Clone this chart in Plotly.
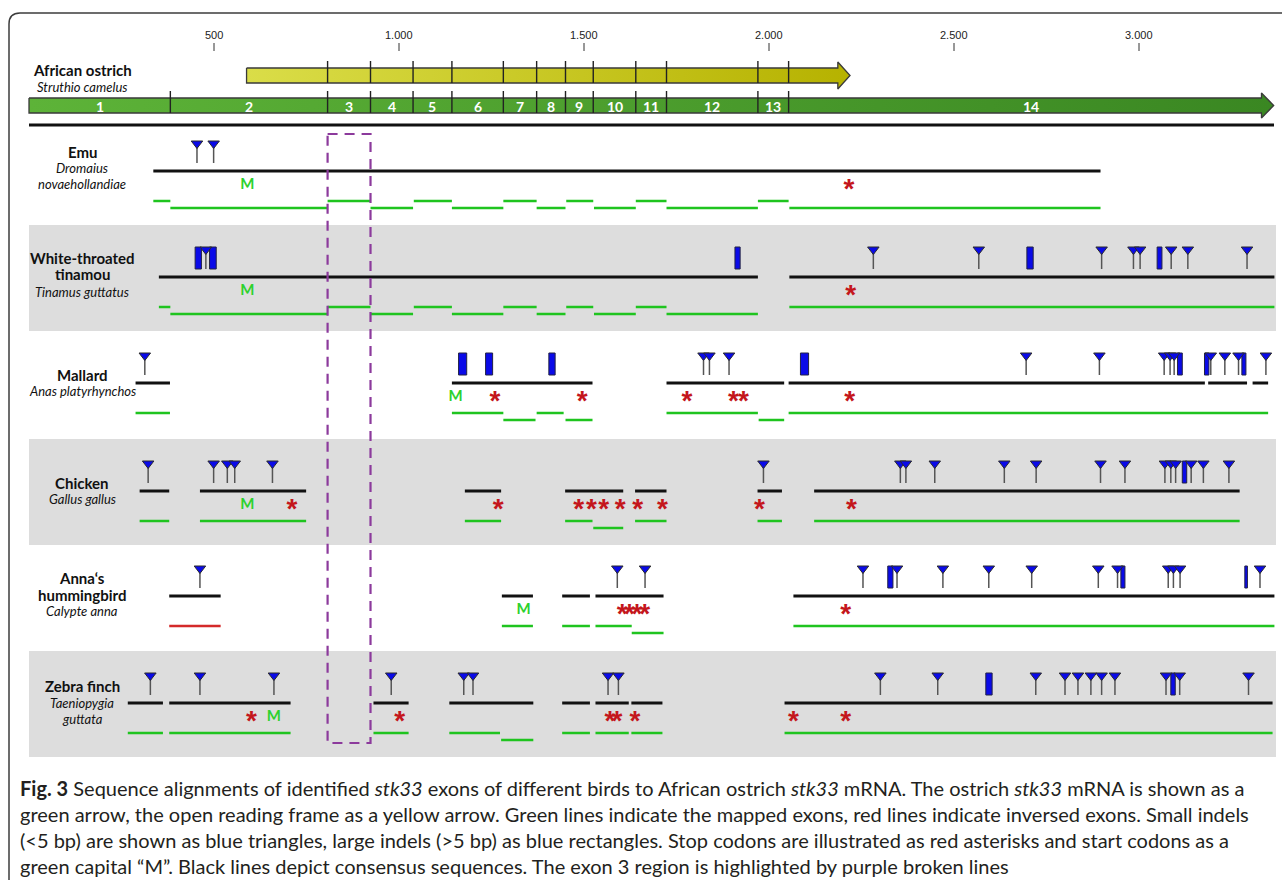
import plotly.graph_objects as go

W, H = 1282, 880
PX0, SCALE = 29.0, 0.37          # page pixel of 0 bp, pixels per bp


def bp(px):
    """convert a page-pixel layout position into axis (bp) units"""
    return (px - PX0) / SCALE


# ------------------------------------------------------------------ data
TICK_VALUES = [500, 1000, 1500, 2000, 2500, 3000]
TICK_LABELS = ["500", "1.000", "1.500", "2.000", "2.500", "3.000"]

EXON_BOUNDS = [0, 382, 807, 923, 1038, 1143, 1282, 1372, 1450, 1525, 1640, 1723, 1970, 2053, 3364]
EXON_NAMES = ["1", "2", "3", "4", "5", "6", "7", "8", "9", "10", "11", "12", "13", "14"]
ORF_START, ORF_END = 588, 2219

EMU_CONSENSUS = [(336, 2896)]
EMU_MAPPED = [(336, 382, 0), (382, 807, 1), (807, 923, 0), (923, 1038, 1), (1040, 1143, 0),
              (1143, 1282, 1), (1282, 1372, 0), (1372, 1450, 1), (1452, 1525, 0), (1527, 1640, 1),
              (1640, 1723, 0), (1723, 1970, 1), (1970, 2053, 0), (2055, 2896, 1)]
EMU_INVERSED = []
EMU_SMALL = [454, 499]
EMU_LARGE = []
EMU_STOP = [2216]
EMU_START = [590]

TINAMOU_CONSENSUS = [(351, 1970), (2055, 3366)]
TINAMOU_MAPPED = [(351, 382, 0), (382, 807, 1), (807, 923, 0), (923, 1038, 1), (1040, 1143, 0),
                  (1143, 1282, 1), (1282, 1372, 0), (1372, 1450, 1), (1452, 1525, 0), (1527, 1640, 1),
                  (1640, 1723, 0), (1723, 1970, 1), (2055, 3366, 0)]
TINAMOU_INVERSED = []
TINAMOU_SMALL = [478, 2282, 2567, 2899, 2985, 3003, 3087, 3132, 3292]
TINAMOU_LARGE = [(449, 466), (488, 506), (1908, 1922), (2697, 2714), (3049, 3062)]
TINAMOU_STOP = [2221]
TINAMOU_START = [590]

MALLARD_CONSENSUS = [(288, 381), (1143, 1523), (1723, 2041), (2053, 3178), (3187, 3292), (3307, 3349)]
MALLARD_MAPPED = [(288, 381, 0), (1143, 1282, 0), (1282, 1369, 1), (1372, 1445, 0), (1450, 1523, 1),
                  (1723, 1970, 0), (1972, 2041, 1), (2053, 3349, 0)]
MALLARD_INVERSED = []
MALLARD_SMALL = [313, 1823, 1839, 1892, 2695, 2893, 3068, 3084, 3095, 3194, 3232, 3269, 3343]
MALLARD_LARGE = [(1161, 1183), (1234, 1253), (1405, 1422), (2085, 2107), (3104, 3117), (3177, 3189), (3278, 3289)]
MALLARD_STOP = [1259, 1495, 1778, 1904, 1931, 2218]
MALLARD_START = [1153]

CHICKEN_CONSENSUS = [(299, 379), (462, 749), (1178, 1276), (1449, 1606), (1638, 1723), (1969, 2035), (2122, 3272)]
CHICKEN_MAPPED = [(299, 379, 0), (462, 749, 0), (1178, 1276, 0), (1449, 1523, 0), (1525, 1606, 1),
                  (1638, 1723, 0), (1969, 2035, 0), (2122, 3272, 0)]
CHICKEN_INVERSED = []
CHICKEN_SMALL = [322, 499, 536, 556, 658, 1985, 2355, 2370, 2448, 2636, 2722, 2896, 2962,
                 3070, 3086, 3099, 3141, 3174, 3243]
CHICKEN_LARGE = [(3117, 3129)]
CHICKEN_STOP = [711, 1268, 1486, 1520, 1553, 1598, 1645, 1712, 1974, 2223]
CHICKEN_START = [590]

HUMMINGBIRD_CONSENSUS = [(379, 518), (1278, 1362), (1441, 1516), (1531, 1715), (2066, 3366)]
HUMMINGBIRD_MAPPED = [(1278, 1362, 0), (1441, 1516, 0), (1531, 1629, 0), (1629, 1715, 1), (2066, 3366, 0)]
HUMMINGBIRD_INVERSED = [(379, 518)]
HUMMINGBIRD_SMALL = [462, 1590, 1665, 2254, 2346, 2470, 2594, 2710, 2890, 2942, 3079, 3093, 3111, 3327]
HUMMINGBIRD_LARGE = [(2321, 2335), (2951, 2962), (3286, 3293)]
HUMMINGBIRD_STOP = [1603, 1623, 1643, 1664, 2207]
HUMMINGBIRD_START = [1337]

ZEBRAFINCH_CONSENSUS = [(267, 362), (379, 707), (931, 1026), (1136, 1363), (1441, 1516),
                        (1531, 1621), (1628, 1712), (2042, 3361)]
ZEBRAFINCH_MAPPED = [(267, 362, 0), (379, 707, 0), (931, 1026, 0), (1136, 1273, 0), (1276, 1363, 1),
                     (1441, 1516, 0), (1531, 1621, 0), (1628, 1712, 0), (2042, 3361, 0)]
ZEBRAFINCH_INVERSED = []
ZEBRAFINCH_SMALL = [328, 462, 662, 979, 1175, 1200, 1565, 1593, 2301, 2456, 2721, 2800, 2835,
                    2870, 2899, 2935, 3073, 3110, 3296]
ZEBRAFINCH_LARGE = [(2586, 2603), (3086, 3098)]
ZEBRAFINCH_STOP = [601, 1002, 1570, 1589, 1638, 2066, 2207]
ZEBRAFINCH_START = [662]

SPECIES_NAMES = [["Emu"], ["White-throated", "tinamou"], ["Mallard"], ["Chicken"],
                 ["Anna‘s", "hummingbird"], ["Zebra finch"]]
SPECIES_LATIN = [["Dromaius", "novaehollandiae"], ["Tinamus guttatus"], ["Anas platyrhynchos"],
                 ["Gallus gallus"], ["Calypte anna"], ["Taeniopygia", "guttata"]]

CAPTION = [
    "<b>Fig. 3</b> Sequence alignments of identified <i>stk33</i> exons of different birds to African ostrich "
    "<i>stk33</i> mRNA. The ostrich <i>stk33</i> mRNA is shown as a",
    "green arrow, the open reading frame as a yellow arrow. Green lines indicate the mapped exons, red lines "
    "indicate inversed exons. Small indels",
    "(&lt;5 bp) are shown as blue triangles, large indels (&gt;5 bp) as blue rectangles. Stop codons are "
    "illustrated as red asterisks and start codons as a",
    "green capital “M”. Black lines depict consensus sequences. The exon 3 region is highlighted by purple "
    "broken lines",
]

ROWS = [
    (EMU_CONSENSUS, EMU_MAPPED, EMU_INVERSED, EMU_SMALL, EMU_LARGE, EMU_STOP, EMU_START),
    (TINAMOU_CONSENSUS, TINAMOU_MAPPED, TINAMOU_INVERSED, TINAMOU_SMALL, TINAMOU_LARGE, TINAMOU_STOP, TINAMOU_START),
    (MALLARD_CONSENSUS, MALLARD_MAPPED, MALLARD_INVERSED, MALLARD_SMALL, MALLARD_LARGE, MALLARD_STOP, MALLARD_START),
    (CHICKEN_CONSENSUS, CHICKEN_MAPPED, CHICKEN_INVERSED, CHICKEN_SMALL, CHICKEN_LARGE, CHICKEN_STOP, CHICKEN_START),
    (HUMMINGBIRD_CONSENSUS, HUMMINGBIRD_MAPPED, HUMMINGBIRD_INVERSED, HUMMINGBIRD_SMALL, HUMMINGBIRD_LARGE,
     HUMMINGBIRD_STOP, HUMMINGBIRD_START),
    (ZEBRAFINCH_CONSENSUS, ZEBRAFINCH_MAPPED, ZEBRAFINCH_INVERSED, ZEBRAFINCH_SMALL, ZEBRAFINCH_LARGE,
     ZEBRAFINCH_STOP, ZEBRAFINCH_START),
]

# ------------------------------------------------------------------ layout constants (page pixels)
ROW_Y = [171, 277, 383, 491, 596, 703]
LABEL_DY = [[-19, -3, 13], [-19, -3, 15], [-8, 8], [-8, 8], [-18, -1, 15], [-17, 0, 16]]
HEAD_BP = 33
LABEL_X = 82
BLUE = "#0a0ae8"
GREEN = "#1fc41f"
RED = "#c4161c"
DARK = "#2b2b2b"
LABEL_FONT = "Lato"

fig = go.Figure()
shapes = []
ann = []


def segs(pairs, y):
    xs, ys = [], []
    for p in pairs:
        xs += [p[0], p[1], None]
        ys += [y, y, None]
    return xs, ys


# border with rounded top-left corner
shapes.append(dict(type="path", xref="x", yref="y",
                   path=f"M {bp(9)},{H + 20} L {bp(9)},{24} Q {bp(9)},{13} {bp(20)},{13} L {bp(W + 20)},{13}",
                   line=dict(color="#3c3c3c", width=1.5), layer="below"))

# grey bands
for i in (1, 3, 5):
    shapes.append(dict(type="rect", xref="x", yref="y", x0=0, x1=bp(1276),
                       y0=ROW_Y[i] - 52, y1=ROW_Y[i] + 54,
                       fillcolor="#dddddd", line=dict(width=0), layer="below"))

# axis ticks
tx, ty = [], []
for t in TICK_VALUES:
    tx += [t, t, None]
    ty += [43, 51, None]
fig.add_trace(go.Scatter(x=tx, y=ty, mode="lines", line=dict(color="#333333", width=1), hoverinfo="skip"))
for t, lab in zip(TICK_VALUES, TICK_LABELS):
    ann.append(dict(x=t, y=35, xref="x", yref="y", text=lab, showarrow=False, xanchor="center",
                    yanchor="middle", font=dict(family="Liberation Sans", size=11, color="#222222")))

# yellow ORF arrow
ye = ORF_END - HEAD_BP
fig.add_trace(go.Scatter(
    x=[ORF_START, ye, ye, ORF_END, ye, ye, ORF_START, ORF_START],
    y=[68, 68, 62, 75.5, 89, 83, 83, 68], mode="lines", fill="toself",
    fillgradient=dict(type="horizontal", colorscale=[[0, "#dadd48"], [1, "#b6b200"]]),
    line=dict(color="#3a3a3a", width=1.3), hoverinfo="skip"))

# green mRNA arrow
END = EXON_BOUNDS[-1]
ge = END - HEAD_BP
fig.add_trace(go.Scatter(
    x=[0, ge, ge, END, ge, ge, 0, 0],
    y=[98, 98, 93, 105.5, 118, 113, 113, 98], mode="lines", fill="toself",
    fillgradient=dict(type="horizontal", colorscale=[[0, "#5db338"], [1, "#3a8722"]]),
    line=dict(color="#3a3a3a", width=1.3), hoverinfo="skip"))

bx, by = [], []
for b in EXON_BOUNDS[1:-1]:
    bx += [b, b, None]
    by += [91, 113, None]
    if ORF_START < b < ORF_END:
        bx += [b, b, None]
        by += [61, 83, None]
fig.add_trace(go.Scatter(x=bx, y=by, mode="lines", line=dict(color="#222222", width=1.4), hoverinfo="skip"))

for i, name in enumerate(EXON_NAMES):
    ann.append(dict(x=(EXON_BOUNDS[i] + EXON_BOUNDS[i + 1]) / 2, y=106, xref="x", yref="y", text=f"<b>{name}</b>",
                    showarrow=False, xanchor="center", yanchor="middle",
                    font=dict(family=LABEL_FONT, size=14, color="white")))

# ostrich labels
ann.append(dict(x=LABEL_X / W, y=70, xref="paper", yref="y", text="<b>African ostrich</b>", showarrow=False,
                xanchor="center", yanchor="middle", font=dict(family=LABEL_FONT, size=15, color="#111111")))
ann.append(dict(x=LABEL_X / W, y=87, xref="paper", yref="y", text="<i>Struthio camelus</i>", showarrow=False,
                xanchor="center", yanchor="middle", font=dict(family=LABEL_FONT, size=13, color="#111111")))

# separator
fig.add_trace(go.Scatter(x=[0, bp(1274)], y=[125, 125], mode="lines",
                         line=dict(color="#111111", width=3), hoverinfo="skip"))

# species rows
for r, (cons, mapped, inv, small, large, stops, starts) in enumerate(ROWS):
    y0 = ROW_Y[r]
    # labels
    lines = [f"<b>{t}</b>" for t in SPECIES_NAMES[r]] + [f"<i>{t}</i>" for t in SPECIES_LATIN[r]]
    nb = len(SPECIES_NAMES[r])
    for k, (txt, dy) in enumerate(zip(lines, LABEL_DY[r])):
        ann.append(dict(x=LABEL_X / W, y=y0 + dy, xref="paper", yref="y", text=txt, showarrow=False,
                        xanchor="center", yanchor="middle",
                        font=dict(family=LABEL_FONT, size=15 if k < nb else 13, color="#111111")))
    # large indels (under the triangles)
    for a, b in large:
        shapes.append(dict(type="rect", xref="x", yref="y", x0=a, x1=b, y0=y0 - 30, y1=y0 - 8,
                           fillcolor=BLUE, line=dict(color="#222244", width=1), layer="below"))
    # consensus
    x, y = segs(cons, y0)
    fig.add_trace(go.Scatter(x=x, y=y, mode="lines", line=dict(color="#111111", width=3), hoverinfo="skip"))
    # mapped exons
    xs, ys = [], []
    for a, b, lev in mapped:
        yy = y0 + 30 + 7 * lev
        xs += [a, b, None]
        ys += [yy, yy, None]
    fig.add_trace(go.Scatter(x=xs, y=ys, mode="lines", line=dict(color=GREEN, width=2.5), hoverinfo="skip"))
    if inv:
        x, y = segs(inv, y0 + 30)
        fig.add_trace(go.Scatter(x=x, y=y, mode="lines", line=dict(color="#d42a2a", width=2.5), hoverinfo="skip"))
    # small indels
    sx, sy = [], []
    for p in small:
        sx += [p, p, None]
        sy += [y0 - 27, y0 - 8, None]
    fig.add_trace(go.Scatter(x=sx, y=sy, mode="lines", line=dict(color="#555555", width=1.5), hoverinfo="skip"))
    fig.add_trace(go.Scatter(x=small, y=[y0 - 27.5] * len(small), mode="markers",
                             marker=dict(symbol="triangle-down", size=10, color=BLUE,
                                         line=dict(color=DARK, width=1)), hoverinfo="skip"))
    # stop codons
    fig.add_trace(go.Scatter(x=stops, y=[y0 + 20] * len(stops), mode="text", text=["<b>*</b>"] * len(stops),
                             textposition="middle center",
                             textfont=dict(family="Liberation Sans", size=28, color=RED), hoverinfo="skip"))
    # start codons
    fig.add_trace(go.Scatter(x=starts, y=[y0 + 14] * len(starts), mode="text", text=["<b>M</b>"] * len(starts),
                             textposition="middle center",
                             textfont=dict(family=LABEL_FONT, size=15, color="#2ed12e"), hoverinfo="skip"))

# purple dashed exon-3 box
shapes.append(dict(type="rect", xref="x", yref="y", x0=EXON_BOUNDS[2], x1=EXON_BOUNDS[3], y0=134, y1=743,
                   line=dict(color="#8c3a9c", width=2.2, dash="10px,7px"), fillcolor="rgba(0,0,0,0)",
                   layer="above"))

# caption
for k, line in enumerate(CAPTION):
    ann.append(dict(x=18 / W, y=788 + 26 * k, xref="paper", yref="y", text=line, showarrow=False,
                    xanchor="left", yanchor="middle", align="left",
                    font=dict(family="Lato", size=20, color="#231f20")))

fig.update_layout(
    width=W, height=H, margin=dict(l=0, r=0, t=0, b=0, pad=0),
    paper_bgcolor="white", plot_bgcolor="white", showlegend=False,
    xaxis=dict(range=[bp(0), bp(W)], visible=False, fixedrange=True),
    yaxis=dict(range=[H, 0], visible=False, fixedrange=True),
    shapes=shapes, annotations=ann,
)

fig.write_html("out.html", config={"displayModeBar": False},
               post_script="document.body.style.margin='0';document.body.style.overflow='hidden';")
